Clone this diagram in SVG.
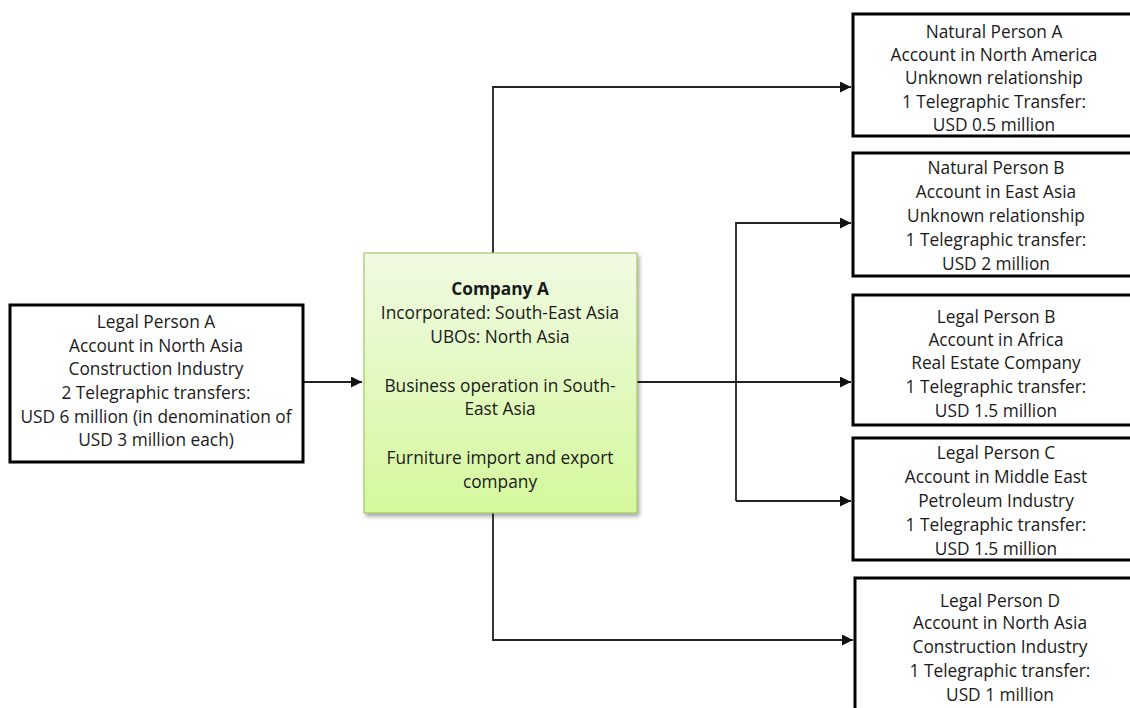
<svg xmlns="http://www.w3.org/2000/svg" width="1130" height="708" viewBox="0 0 1130 708">
  <defs>
    <linearGradient id="greenFill" x1="0" y1="0" x2="0" y2="1">
      <stop offset="0" stop-color="#f0fae3"/>
      <stop offset="1" stop-color="#d4f89c"/>
    </linearGradient>
    <filter id="shadow" x="-10%" y="-10%" width="130%" height="130%">
      <feGaussianBlur in="SourceAlpha" stdDeviation="2"/>
      <feOffset dx="2" dy="3" result="b"/>
      <feComponentTransfer><feFuncA type="linear" slope="0.35"/></feComponentTransfer>
      <feMerge><feMergeNode/><feMergeNode in="SourceGraphic"/></feMerge>
    </filter>
    <marker id="arrow" viewBox="0 0 10 10" refX="10" refY="5" markerWidth="11" markerHeight="11" markerUnits="userSpaceOnUse" orient="auto">
      <path d="M0,0 L10,5 L0,10 z" fill="#111"/>
    </marker>
  </defs>
  <style>
    .box { fill: #ffffff; stroke: #000000; stroke-width: 3; }
    .main { fill: url(#greenFill); stroke: #9bbb59; stroke-width: 1; }
    .link { fill: none; stroke: #222; stroke-width: 1.8; }
    text { font-family: "Open Sans", "Liberation Sans", sans-serif; font-size: 17.3px; fill: #1a1a1a; text-anchor: middle; }
    .bold { font-weight: bold; }
  </style>

  <rect width="1130" height="708" fill="#ffffff"/>

  <!-- connectors -->
  <g id="connectors">
    <path class="link" d="M303,382 H362" marker-end="url(#arrow)"/>
    <path class="link" d="M493,253 V87 H851" marker-end="url(#arrow)"/>
    <path class="link" d="M637,382 H851" marker-end="url(#arrow)"/>
    <path class="link" d="M736,501 V223 H851" marker-end="url(#arrow)"/>
    <path class="link" d="M736,501 H851" marker-end="url(#arrow)"/>
    <path class="link" d="M493,513 V640 H853" marker-end="url(#arrow)"/>
  </g>

  <!-- source account -->
  <g id="legal-person-a">
    <rect class="box" x="10" y="305" width="293" height="157"/>
    <text x="156" y="328">Legal Person A</text>
    <text x="156" y="352">Account in North Asia</text>
    <text x="156" y="375">Construction Industry</text>
    <text x="156" y="399">2 Telegraphic transfers:</text>
    <text x="156" y="423">USD 6 million (in denomination of</text>
    <text x="156" y="446">USD 3 million each)</text>
  </g>

  <!-- central company -->
  <g id="company-a">
    <rect class="main" x="364" y="253" width="273" height="260" filter="url(#shadow)"/>
    <text class="bold" x="500" y="295">Company A</text>
    <text x="500" y="319">Incorporated: South-East Asia</text>
    <text x="500" y="343">UBOs: North Asia</text>
    <text x="500" y="392">Business operation in South-</text>
    <text x="500" y="415">East Asia</text>
    <text x="500" y="464">Furniture import and export</text>
    <text x="500" y="488">company</text>
  </g>

  <!-- beneficiaries -->
  <g id="natural-person-a">
    <rect class="box" x="853" y="14" width="290" height="122"/>
    <text x="994" y="38">Natural Person A</text>
    <text x="994" y="61">Account in North America</text>
    <text x="994" y="84">Unknown relationship</text>
    <text x="994" y="108">1 Telegraphic Transfer:</text>
    <text x="994" y="131">USD 0.5 million</text>
  </g>

  <g id="natural-person-b">
    <rect class="box" x="853" y="153" width="290" height="123"/>
    <text x="996" y="174">Natural Person B</text>
    <text x="996" y="198">Account in East Asia</text>
    <text x="996" y="222">Unknown relationship</text>
    <text x="996" y="246">1 Telegraphic transfer:</text>
    <text x="996" y="270">USD 2 million</text>
  </g>

  <g id="legal-person-b">
    <rect class="box" x="853" y="295" width="290" height="130"/>
    <text x="996" y="323">Legal Person B</text>
    <text x="996" y="346">Account in Africa</text>
    <text x="996" y="369">Real Estate Company</text>
    <text x="996" y="393">1 Telegraphic transfer:</text>
    <text x="996" y="417">USD 1.5 million</text>
  </g>

  <g id="legal-person-c">
    <rect class="box" x="853" y="438" width="290" height="122"/>
    <text x="996" y="459">Legal Person C</text>
    <text x="996" y="483">Account in Middle East</text>
    <text x="996" y="507">Petroleum Industry</text>
    <text x="996" y="531">1 Telegraphic transfer:</text>
    <text x="996" y="555">USD 1.5 million</text>
  </g>

  <g id="legal-person-d">
    <rect class="box" x="855" y="578" width="290" height="140"/>
    <text x="1000" y="607">Legal Person D</text>
    <text x="1000" y="629">Account in North Asia</text>
    <text x="1000" y="653">Construction Industry</text>
    <text x="1000" y="677">1 Telegraphic transfer:</text>
    <text x="1000" y="701">USD 1 million</text>
  </g>
</svg>
